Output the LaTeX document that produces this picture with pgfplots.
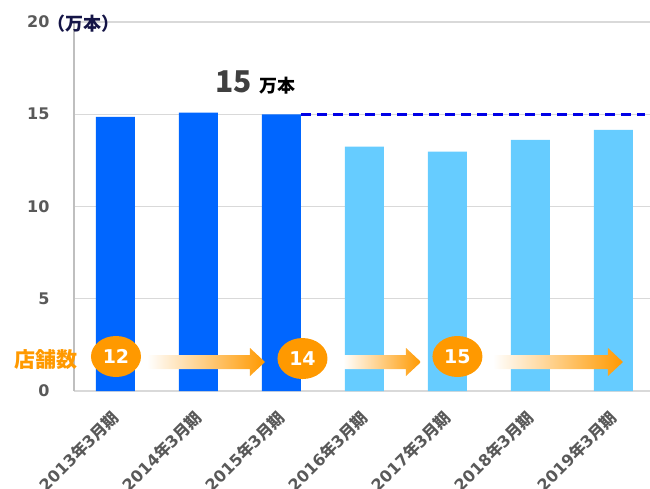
\documentclass[border=0pt]{standalone}
\usepackage{fontspec}
\setmainfont{DejaVu Sans}
\newfontfamily\jp{Noto Sans CJK JP}
\usepackage{pgfplots}
\pgfplotsset{compat=1.18}
\definecolor{darkbar}{HTML}{0066FF}
\definecolor{lightbar}{HTML}{66CCFF}
\definecolor{orng}{HTML}{FF9900}
\definecolor{midorng}{HTML}{FFC266}
\definecolor{tickgray}{HTML}{595959}
\definecolor{gridgray}{HTML}{D9D9D9}
\definecolor{axgray}{HTML}{BFBFBF}
\definecolor{navy}{RGB}{20,20,70}
\definecolor{dashblue}{RGB}{0,0,230}
\definecolor{bigtxt}{HTML}{404040}
\newcommand{\lab}[1]{#1{\jp 年}3{\jp 月期}}
\begin{document}
\begin{tikzpicture}[x=1pt,y=1pt]
\begin{axis}[
  at={(0,0)}, anchor=south west,
  scale only axis, width=576pt, height=369pt,
  xmin=-0.5, xmax=6.44, ymin=0, ymax=20,
  ytick={0,5,10,15,20},
  xtick={0,1,2,3,4,5,6},
  xticklabels={\lab{2013},\lab{2014},\lab{2015},\lab{2016},\lab{2017},\lab{2018},\lab{2019}},
  axis x line*=bottom, axis y line*=left,
  ymajorgrids, grid style={gridgray, line width=1.2pt},
  major tick length=0pt,
  x axis line style={gridgray, line width=2pt},
  y axis line style={axgray, line width=1.3pt},
  /pgf/number format/assume math mode=true,
  yticklabel style={font=\bfseries\fontsize{16}{16}\selectfont, text=tickgray, xshift=-21pt},
  xticklabel style={font=\bfseries\fontsize{16}{16}\selectfont, text=tickgray, rotate=45, anchor=north east, inner sep=0pt, xshift=-16.3pt, yshift=-9.2pt},
  clip=false,
]
\addplot[ybar, bar width=39pt, bar shift=0pt, fill=darkbar, draw=none] coordinates {(0,14.86) (1,15.09) (2,15.0)};
\addplot[ybar, bar width=39pt, bar shift=0pt, fill=lightbar, draw=none] coordinates {(3,13.24) (4,12.98) (5,13.61) (6,14.15)};
\addplot[dashblue, line width=3pt, dash pattern=on 10pt off 6pt] coordinates {(2.235,15) (6.38,15)};

% annotation 15 万本
\node[anchor=base west, inner sep=0pt, text=bigtxt, font=\jp\bfseries\fontsize{30}{30}\selectfont] (big) at (axis cs:1.199,16.2) {15};
\node[anchor=base west, inner sep=0pt, text=black, font=\jp\bfseries\fontsize{18}{18}\selectfont] at ([xshift=7pt]big.base east) {万本};

% unit label
\node[anchor=west, inner sep=0pt, text=navy, font=\jp\bfseries\fontsize{18}{18}\selectfont] at ([xshift=-27pt,yshift=-2pt]axis cs:-0.5,20) {（万本）};

% store count label
\node[anchor=east, inner sep=0pt, text=orng, font=\jp\bfseries\fontsize{21}{21}\selectfont] at (axis cs:-0.452,1.68) {店舗数};

% arrows
\shade[left color=white, middle color=midorng, right color=orng]
  (axis cs:0.3795,1.572) ++(0pt,7pt) -- ++(103pt,0pt) -- ++(0pt,7pt) -- ++(15pt,-14pt) -- ++(-15pt,-14pt) -- ++(0pt,7pt) -- ++(-103pt,0pt) -- cycle;
\shade[left color=white, middle color=midorng, right color=orng]
  (axis cs:2.741,1.572) ++(0pt,7pt) -- ++(63pt,0pt) -- ++(0pt,7pt) -- ++(15pt,-14pt) -- ++(-15pt,-14pt) -- ++(0pt,7pt) -- ++(-63pt,0pt) -- cycle;
\shade[left color=white, middle color=midorng, right color=orng]
  (axis cs:4.548,1.572) ++(0pt,7pt) -- ++(115pt,0pt) -- ++(0pt,7pt) -- ++(15pt,-14pt) -- ++(-15pt,-14pt) -- ++(0pt,7pt) -- ++(-115pt,0pt) -- cycle;

% circles
\fill[orng] (axis cs:0.006,1.87) ellipse [x radius=25pt, y radius=20.5pt];
\node[text=white, font=\bfseries\fontsize{19}{19}\selectfont] at (axis cs:0.006,1.87) {12};
\fill[orng] (axis cs:2.253,1.76) ellipse [x radius=25pt, y radius=20.5pt];
\node[text=white, font=\bfseries\fontsize{19}{19}\selectfont] at (axis cs:2.253,1.76) {14};
\fill[orng] (axis cs:4.12,1.87) ellipse [x radius=25pt, y radius=20.5pt];
\node[text=white, font=\bfseries\fontsize{19}{19}\selectfont] at (axis cs:4.12,1.87) {15};
\end{axis}
\pgfresetboundingbox
\useasboundingbox (-74pt,-97pt) rectangle (576pt,391pt);
\end{tikzpicture}
\end{document}
